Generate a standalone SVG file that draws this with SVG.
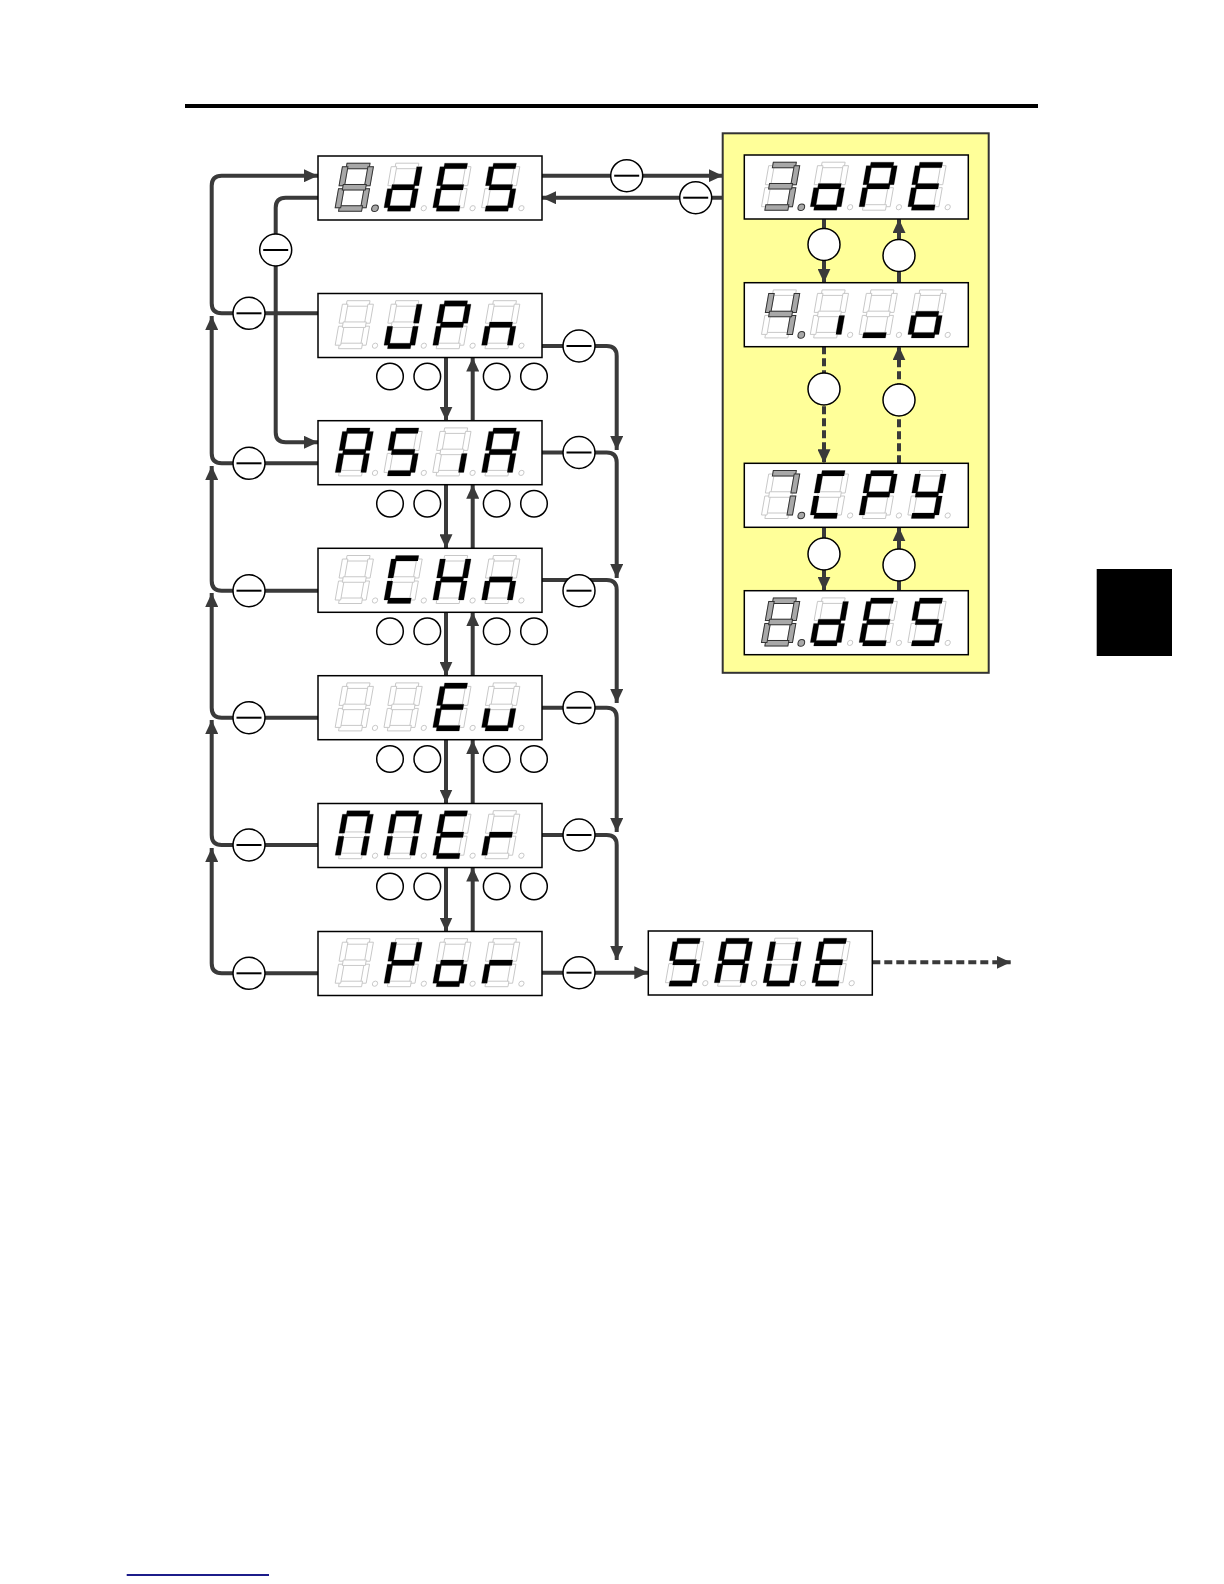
<svg xmlns="http://www.w3.org/2000/svg" width="1224" height="1584" viewBox="0 0 1224 1584">
<style>
.bx{fill:#fff;stroke:#000;stroke-width:1.5}
.on{fill:#000;stroke:none}
.gy{fill:#a8a8a8;stroke:#333;stroke-width:1}
.ln{fill:none;stroke:#3a3a3a;stroke-width:4;marker-end:url(#ah)}
.ds{stroke-dasharray:8 4}
.mc{fill:#fff;stroke:#000;stroke-width:1.5}
.mn{stroke:#000;stroke-width:2}
</style>
<defs>
<marker id="ah" viewBox="0 0 14 13" refX="14" refY="6.5" markerWidth="14" markerHeight="13" markerUnits="userSpaceOnUse" orient="auto"><path d="M0,0L14,6.5L0,13z" fill="#3a3a3a"/></marker>
<rect id="a" x="-11.5" y="-24" width="23" height="5.5"/>
<rect id="b" x="10" y="-20.5" width="5.5" height="19"/>
<rect id="c" x="10" y="1.5" width="5.5" height="19"/>
<rect id="d" x="-11.5" y="18.5" width="23" height="5.5"/>
<rect id="e" x="-15.5" y="1.5" width="5.5" height="19"/>
<rect id="f" x="-15.5" y="-20.5" width="5.5" height="19"/>
<rect id="g" x="-11.5" y="-2.75" width="23" height="5.5"/>
<g id="D8" fill="#fff" stroke="#c4c4c4" stroke-width="0.9"><use href="#a"/><use href="#b"/><use href="#c"/><use href="#d"/><use href="#e"/><use href="#f"/><use href="#g"/><circle cx="24.4" cy="21" r="2.6"/></g>
<g id="G8"><use href="#a" class="gy"/><use href="#b" class="gy"/><use href="#c" class="gy"/><use href="#d" class="gy"/><use href="#e" class="gy"/><use href="#f" class="gy"/><use href="#g" class="gy"/></g>
<g id="M"><circle r="16" class="mc"/><line x1="-12.5" y1="0" x2="12.5" y2="0" class="mn"/></g>
<circle id="s" r="13.3" class="mc"/>
<circle id="w" r="16" class="mc"/>
</defs>

<rect width="1224" height="1584" fill="#fff"/>
<line x1="185" y1="106" x2="1038" y2="106" stroke="#000" stroke-width="4"/>
<rect x="1096.7" y="569" width="75.3" height="87" fill="#000"/>
<line x1="126.7" y1="1575" x2="269" y2="1575" stroke="#1c1c8a" stroke-width="2"/>

<g id="panel"><rect x="722.7" y="133.3" width="266" height="539.5" fill="#ffff99" stroke="#333" stroke-width="2"/></g>

<g id="connectors">
<path class="ln" d="M318,313.3H221.7Q211.7,313.3 211.7,303.3V185.7Q211.7,175.7 221.7,175.7H318"/>
<path class="ln" d="M318,197.7H285.7Q275.7,197.7 275.7,207.7V432.3Q275.7,442.3 285.7,442.3H318"/>
<path class="ln" d="M318,463.3H221.7Q211.7,463.3 211.7,453.3V316"/>
<path class="ln" d="M318,590.7H221.7Q211.7,590.7 211.7,580.7V466"/>
<path class="ln" d="M318,717.7H221.7Q211.7,717.7 211.7,707.7V593"/>
<path class="ln" d="M318,845H221.7Q211.7,845 211.7,835V720"/>
<path class="ln" d="M318,973.3H221.7Q211.7,973.3 211.7,963.3V848"/>
<path class="ln" d="M542,346H606.7Q616.7,346 616.7,356V450"/>
<path class="ln" d="M542,452.5H606.7Q616.7,452.5 616.7,462.5V578"/>
<path class="ln" d="M542,580H606.7Q616.7,580 616.7,590V703"/>
<path class="ln" d="M542,707.7H606.7Q616.7,707.7 616.7,717.7V832"/>
<path class="ln" d="M542,835H606.7Q616.7,835 616.7,845V960"/>
<path class="ln" d="M542,972.7H648.3"/>
<path class="ln" d="M542,175.7H722.7"/>
<path class="ln" d="M722.7,197.7H542"/>
<path class="ln" d="M446,357.5V420.7"/><path class="ln" d="M472.7,420.7V357.5"/>
<path class="ln" d="M446,484.7V548.3"/><path class="ln" d="M472.7,548.3V484.7"/>
<path class="ln" d="M446,612.3V675.7"/><path class="ln" d="M472.7,675.7V612.3"/>
<path class="ln" d="M446,740V803.5"/><path class="ln" d="M472.7,803.5V740"/>
<path class="ln" d="M446,867.5V931.5"/><path class="ln" d="M472.7,931.5V867.5"/>
<path class="ln" d="M824,219V282.7"/><path class="ln" d="M899,282.7V219"/>
<path class="ln ds" d="M824,346.3V463.3"/><path class="ln ds" d="M899,463.3V346.3"/>
<path class="ln" d="M824,527.3V590.7"/><path class="ln" d="M899,590.7V527.3"/>
<path class="ln ds" d="M872.3,962.3H1010.7"/>
<use href="#M" x="249" y="313.3"/><use href="#M" x="275.7" y="250"/><use href="#M" x="249" y="463.3"/><use href="#M" x="249" y="590.7"/><use href="#M" x="249" y="717.7"/><use href="#M" x="249" y="845"/><use href="#M" x="249" y="973.3"/>
<use href="#M" x="579" y="346"/><use href="#M" x="579" y="452.5"/><use href="#M" x="579" y="590.7"/><use href="#M" x="579" y="707.7"/><use href="#M" x="579" y="835"/><use href="#M" x="579" y="972.7"/>
<use href="#M" x="626.7" y="175.7"/><use href="#M" x="695.7" y="197.7"/>
<use href="#s" x="390" y="376.5"/><use href="#s" x="427.3" y="376.5"/><use href="#s" x="496.7" y="376.5"/><use href="#s" x="534" y="376.5"/>
<use href="#s" x="390" y="503.7"/><use href="#s" x="427.3" y="503.7"/><use href="#s" x="496.7" y="503.7"/><use href="#s" x="534" y="503.7"/>
<use href="#s" x="390" y="631.3"/><use href="#s" x="427.3" y="631.3"/><use href="#s" x="496.7" y="631.3"/><use href="#s" x="534" y="631.3"/>
<use href="#s" x="390" y="759"/><use href="#s" x="427.3" y="759"/><use href="#s" x="496.7" y="759"/><use href="#s" x="534" y="759"/>
<use href="#s" x="390" y="886.5"/><use href="#s" x="427.3" y="886.5"/><use href="#s" x="496.7" y="886.5"/><use href="#s" x="534" y="886.5"/>
<use href="#w" x="824" y="244.4"/><use href="#w" x="899" y="255.5"/>
<use href="#w" x="824" y="389"/><use href="#w" x="899" y="400"/>
<use href="#w" x="824" y="554"/><use href="#w" x="899" y="565"/>
</g>

<g id="n-8dES" transform="translate(318,156)"><rect class="bx" width="224" height="64"/>
<g transform="translate(36.3,31.2) skewX(-10)"><use href="#D8"/><use href="#G8"/><circle class="gy" cx="24.4" cy="21" r="3.3"/></g>
<g transform="translate(85.1,31.2) skewX(-10)"><use href="#D8"/><use href="#b" class="on"/><use href="#c" class="on"/><use href="#d" class="on"/><use href="#e" class="on"/><use href="#g" class="on"/></g>
<g transform="translate(133.9,31.2) skewX(-10)"><use href="#D8"/><use href="#a" class="on"/><use href="#d" class="on"/><use href="#e" class="on"/><use href="#f" class="on"/><use href="#g" class="on"/></g>
<g transform="translate(182.7,31.2) skewX(-10)"><use href="#D8"/><use href="#a" class="on"/><use href="#c" class="on"/><use href="#d" class="on"/><use href="#f" class="on"/><use href="#g" class="on"/></g>
</g>

<g id="n-JPn" transform="translate(318,293.5)"><rect class="bx" width="224" height="64"/>
<g transform="translate(36.3,31.2) skewX(-10)"><use href="#D8"/></g>
<g transform="translate(85.1,31.2) skewX(-10)"><use href="#D8"/><use href="#b" class="on"/><use href="#c" class="on"/><use href="#d" class="on"/><use href="#e" class="on"/></g>
<g transform="translate(133.9,31.2) skewX(-10)"><use href="#D8"/><use href="#a" class="on"/><use href="#b" class="on"/><use href="#e" class="on"/><use href="#f" class="on"/><use href="#g" class="on"/></g>
<g transform="translate(182.7,31.2) skewX(-10)"><use href="#D8"/><use href="#c" class="on"/><use href="#e" class="on"/><use href="#g" class="on"/></g>
</g>

<g id="n-ASiA" transform="translate(318,420.7)"><rect class="bx" width="224" height="64"/>
<g transform="translate(36.3,31.2) skewX(-10)"><use href="#D8"/><use href="#a" class="on"/><use href="#b" class="on"/><use href="#c" class="on"/><use href="#e" class="on"/><use href="#f" class="on"/><use href="#g" class="on"/></g>
<g transform="translate(85.1,31.2) skewX(-10)"><use href="#D8"/><use href="#a" class="on"/><use href="#c" class="on"/><use href="#d" class="on"/><use href="#f" class="on"/><use href="#g" class="on"/></g>
<g transform="translate(133.9,31.2) skewX(-10)"><use href="#D8"/><use href="#c" class="on"/></g>
<g transform="translate(182.7,31.2) skewX(-10)"><use href="#D8"/><use href="#a" class="on"/><use href="#b" class="on"/><use href="#c" class="on"/><use href="#e" class="on"/><use href="#f" class="on"/><use href="#g" class="on"/></g>
</g>

<g id="n-CHn" transform="translate(318,548.3)"><rect class="bx" width="224" height="64"/>
<g transform="translate(36.3,31.2) skewX(-10)"><use href="#D8"/></g>
<g transform="translate(85.1,31.2) skewX(-10)"><use href="#D8"/><use href="#a" class="on"/><use href="#d" class="on"/><use href="#e" class="on"/><use href="#f" class="on"/></g>
<g transform="translate(133.9,31.2) skewX(-10)"><use href="#D8"/><use href="#b" class="on"/><use href="#c" class="on"/><use href="#e" class="on"/><use href="#f" class="on"/><use href="#g" class="on"/></g>
<g transform="translate(182.7,31.2) skewX(-10)"><use href="#D8"/><use href="#c" class="on"/><use href="#e" class="on"/><use href="#g" class="on"/></g>
</g>

<g id="n-Eu" transform="translate(318,675.7)"><rect class="bx" width="224" height="64"/>
<g transform="translate(36.3,31.2) skewX(-10)"><use href="#D8"/></g>
<g transform="translate(85.1,31.2) skewX(-10)"><use href="#D8"/></g>
<g transform="translate(133.9,31.2) skewX(-10)"><use href="#D8"/><use href="#a" class="on"/><use href="#d" class="on"/><use href="#e" class="on"/><use href="#f" class="on"/><use href="#g" class="on"/></g>
<g transform="translate(182.7,31.2) skewX(-10)"><use href="#D8"/><use href="#c" class="on"/><use href="#d" class="on"/><use href="#e" class="on"/></g>
</g>

<g id="n-AMEr" transform="translate(318,803.5)"><rect class="bx" width="224" height="64"/>
<g transform="translate(36.3,31.2) skewX(-10)"><use href="#D8"/><use href="#a" class="on"/><use href="#b" class="on"/><use href="#c" class="on"/><use href="#e" class="on"/><use href="#f" class="on"/></g>
<g transform="translate(85.1,31.2) skewX(-10)"><use href="#D8"/><use href="#a" class="on"/><use href="#b" class="on"/><use href="#c" class="on"/><use href="#e" class="on"/><use href="#f" class="on"/></g>
<g transform="translate(133.9,31.2) skewX(-10)"><use href="#D8"/><use href="#a" class="on"/><use href="#d" class="on"/><use href="#e" class="on"/><use href="#f" class="on"/><use href="#g" class="on"/></g>
<g transform="translate(182.7,31.2) skewX(-10)"><use href="#D8"/><use href="#e" class="on"/><use href="#g" class="on"/></g>
</g>

<g id="n-Vor" transform="translate(318,931.5)"><rect class="bx" width="224" height="64"/>
<g transform="translate(36.3,31.2) skewX(-10)"><use href="#D8"/></g>
<g transform="translate(85.1,31.2) skewX(-10)"><use href="#D8"/><use href="#b" class="on"/><use href="#e" class="on"/><use href="#f" class="on"/><use href="#g" class="on"/></g>
<g transform="translate(133.9,31.2) skewX(-10)"><use href="#D8"/><use href="#c" class="on"/><use href="#d" class="on"/><use href="#e" class="on"/><use href="#g" class="on"/></g>
<g transform="translate(182.7,31.2) skewX(-10)"><use href="#D8"/><use href="#e" class="on"/><use href="#g" class="on"/></g>
</g>

<g id="n-SAVE" transform="translate(648.3,931)"><rect class="bx" width="224" height="64"/>
<g transform="translate(36.3,31.2) skewX(-10)"><use href="#D8"/><use href="#a" class="on"/><use href="#c" class="on"/><use href="#d" class="on"/><use href="#f" class="on"/><use href="#g" class="on"/></g>
<g transform="translate(85.1,31.2) skewX(-10)"><use href="#D8"/><use href="#a" class="on"/><use href="#b" class="on"/><use href="#c" class="on"/><use href="#e" class="on"/><use href="#f" class="on"/><use href="#g" class="on"/></g>
<g transform="translate(133.9,31.2) skewX(-10)"><use href="#D8"/><use href="#b" class="on"/><use href="#c" class="on"/><use href="#d" class="on"/><use href="#e" class="on"/><use href="#f" class="on"/></g>
<g transform="translate(182.7,31.2) skewX(-10)"><use href="#D8"/><use href="#a" class="on"/><use href="#d" class="on"/><use href="#e" class="on"/><use href="#f" class="on"/><use href="#g" class="on"/></g>
</g>

<g id="n-3oPE" transform="translate(744.3,155)"><rect class="bx" width="224" height="64"/>
<g transform="translate(36.3,31.2) skewX(-10)"><use href="#D8"/><use href="#a" class="gy"/><use href="#b" class="gy"/><use href="#c" class="gy"/><use href="#d" class="gy"/><use href="#g" class="gy"/><circle class="gy" cx="24.4" cy="21" r="3.3"/></g>
<g transform="translate(85.1,31.2) skewX(-10)"><use href="#D8"/><use href="#c" class="on"/><use href="#d" class="on"/><use href="#e" class="on"/><use href="#g" class="on"/></g>
<g transform="translate(133.9,31.2) skewX(-10)"><use href="#D8"/><use href="#a" class="on"/><use href="#b" class="on"/><use href="#e" class="on"/><use href="#f" class="on"/><use href="#g" class="on"/></g>
<g transform="translate(182.7,31.2) skewX(-10)"><use href="#D8"/><use href="#a" class="on"/><use href="#d" class="on"/><use href="#e" class="on"/><use href="#f" class="on"/><use href="#g" class="on"/></g>
</g>

<g id="n-4io" transform="translate(744.3,282.7)"><rect class="bx" width="224" height="64"/>
<g transform="translate(36.3,31.2) skewX(-10)"><use href="#D8"/><use href="#b" class="gy"/><use href="#c" class="gy"/><use href="#f" class="gy"/><use href="#g" class="gy"/><circle class="gy" cx="24.4" cy="21" r="3.3"/></g>
<g transform="translate(85.1,31.2) skewX(-10)"><use href="#D8"/><use href="#c" class="on"/></g>
<g transform="translate(133.9,31.2) skewX(-10)"><use href="#D8"/><use href="#d" class="on"/></g>
<g transform="translate(182.7,31.2) skewX(-10)"><use href="#D8"/><use href="#c" class="on"/><use href="#d" class="on"/><use href="#e" class="on"/><use href="#g" class="on"/></g>
</g>

<g id="n-7CPY" transform="translate(744.3,463.3)"><rect class="bx" width="224" height="64"/>
<g transform="translate(36.3,31.2) skewX(-10)"><use href="#D8"/><use href="#a" class="gy"/><use href="#b" class="gy"/><use href="#c" class="gy"/><circle class="gy" cx="24.4" cy="21" r="3.3"/></g>
<g transform="translate(85.1,31.2) skewX(-10)"><use href="#D8"/><use href="#a" class="on"/><use href="#d" class="on"/><use href="#e" class="on"/><use href="#f" class="on"/></g>
<g transform="translate(133.9,31.2) skewX(-10)"><use href="#D8"/><use href="#a" class="on"/><use href="#b" class="on"/><use href="#e" class="on"/><use href="#f" class="on"/><use href="#g" class="on"/></g>
<g transform="translate(182.7,31.2) skewX(-10)"><use href="#D8"/><use href="#b" class="on"/><use href="#c" class="on"/><use href="#d" class="on"/><use href="#f" class="on"/><use href="#g" class="on"/></g>
</g>

<g id="n-8dES-2" transform="translate(744.3,590.7)"><rect class="bx" width="224" height="64"/>
<g transform="translate(36.3,31.2) skewX(-10)"><use href="#D8"/><use href="#G8"/><circle class="gy" cx="24.4" cy="21" r="3.3"/></g>
<g transform="translate(85.1,31.2) skewX(-10)"><use href="#D8"/><use href="#b" class="on"/><use href="#c" class="on"/><use href="#d" class="on"/><use href="#e" class="on"/><use href="#g" class="on"/></g>
<g transform="translate(133.9,31.2) skewX(-10)"><use href="#D8"/><use href="#a" class="on"/><use href="#d" class="on"/><use href="#e" class="on"/><use href="#f" class="on"/><use href="#g" class="on"/></g>
<g transform="translate(182.7,31.2) skewX(-10)"><use href="#D8"/><use href="#a" class="on"/><use href="#c" class="on"/><use href="#d" class="on"/><use href="#f" class="on"/><use href="#g" class="on"/></g>
</g>
</svg>
